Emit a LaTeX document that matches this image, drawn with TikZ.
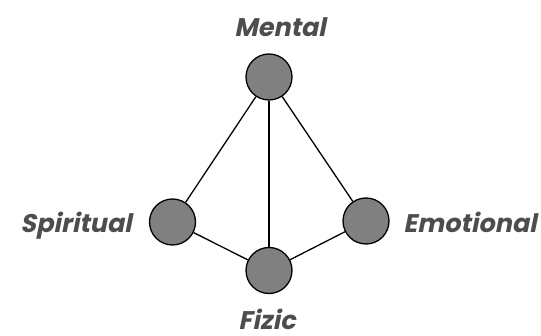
\documentclass[tikz,border=0pt]{standalone}
\usepackage{fontspec}
\newfontfamily\lblfont[FakeSlant=0.2]{Poppins}
\definecolor{ballgray}{HTML}{808080}
\definecolor{txtgray}{HTML}{4D4D4D}
\tikzset{
  ball/.style={circle, draw=black, line width=1.3pt, fill=ballgray, minimum size=46pt, inner sep=0pt},
  lbl/.style={font=\lblfont\bfseries\fontsize{25.5}{28}\selectfont, text=txtgray, inner sep=0pt},
  link/.style={draw=black, line width=1.3pt}
}
\begin{document}
\begin{tikzpicture}[x=1pt,y=-1pt]
\useasboundingbox (0,0) rectangle (541,336);
\node[ball] (m) at (269,77) {};
\node[ball] (s) at (172.5,222) {};
\node[ball] (e) at (366,221) {};
\node[ball] (f) at (269,270.5) {};
\draw[link] (m) -- (s);
\draw[link] (m) -- (f);
\draw[link] (m) -- (e);
\draw[link] (s) -- (f);
\draw[link] (f) -- (e);
\node[lbl] (ml) at (280,27) {Mental};
\node[lbl] (sl) at (76,226) {Spiritual};
\node[lbl] (el) at (470,222) {Emotional};
\node[lbl] (fl) at (267,319) {Fizic};
\end{tikzpicture}
\end{document}
